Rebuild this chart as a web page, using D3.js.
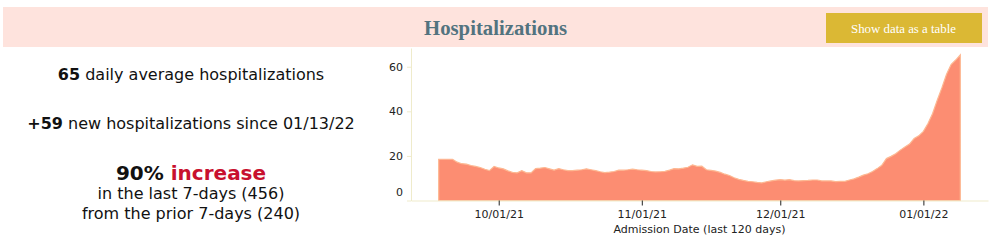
<!DOCTYPE html>
<html>
<head>
<meta charset="utf-8">
<script src="https://cdn.jsdelivr.net/npm/d3@7"></script>
<style>
  html, body { margin: 0; padding: 0; background: #fff; }
  svg text { font-family: "DejaVu Sans", Verdana, sans-serif; }
</style>
</head>
<body>
<div id="chart"></div>
<script>
// 7-day average hospitalizations, one value per day starting 09/18/21
const firstDay = new Date(2021, 8, 18);
const hospitalizations = [
  18.5, 18.5, 18.5, 18.5,
  17.2, 16.5, 16.3, 15.7, 15.3, 14.8, 14.0, 13.4, 15.3, 14.6,
  14.2, 13.3, 12.6, 12.4, 13.4, 12.4, 12.4, 14.3, 14.5, 14.8, 14.2, 13.6, 14.3, 13.8,
  13.4, 13.4, 13.6, 13.8, 14.2, 13.8, 13.4, 12.9, 12.5, 12.7, 13.0, 13.6, 13.6, 13.8,
  14.1, 13.8, 13.6, 13.4, 13.0, 12.8, 12.9, 13.1, 13.6, 14.3, 14.2, 14.5, 14.9, 16.0, 15.3, 15.4,
  13.8, 13.5, 13.2, 12.6, 11.8, 11.2, 10.2, 9.5, 9.0, 8.6, 8.4, 8.1, 7.9, 8.4,
  8.8, 9.1, 9.4, 9.1, 9.4, 8.9, 8.8, 8.9, 9.0, 9.2, 9.2, 8.8, 8.8, 8.8,
  8.5, 8.6, 8.6, 9.2, 9.7, 10.5, 11.4, 12.0, 13.0, 14.3, 15.8, 18.8, 19.8, 21.0,
  22.6, 24.0, 25.3, 27.8, 29.0, 31.0, 34.5, 39.0, 45.0, 50.5, 56.5, 61.0, 63.0, 65.3
];
const xDomain = [new Date(2021, 8, 12), new Date(2022, 0, 15)];
const xTicks = [new Date(2021, 9, 1), new Date(2021, 10, 1), new Date(2021, 11, 1), new Date(2022, 0, 1)];
const yTicks = [0, 20, 40, 60];

const title = 'Hospitalizations';
const buttonLabel = 'Show data as a table';
const xAxisTitle = 'Admission Date (last 120 days)';
const dailyAverage = 65;
const newSince = { count: 59, date: '01/13/22' };
const weekChange = { pct: 90, last: 456, prior: 240 };

const data = hospitalizations.map((v, i) => ({ date: d3.timeDay.offset(firstDay, i), value: v }));

const svg = d3.select('#chart').append('svg')
  .attr('width', 996)
  .attr('height', 242);

// header band
svg.append('rect')
  .attr('x', 3).attr('y', 7)
  .attr('width', 985).attr('height', 40)
  .attr('fill', '#fee3dd');

svg.append('text')
  .attr('x', 424).attr('y', 35)
  .attr('textLength', 143)
  .attr('lengthAdjust', 'spacingAndGlyphs')
  .style('font-family', '"Liberation Serif", serif')
  .style('font-weight', 'bold')
  .style('font-size', '21px')
  .attr('fill', '#52737f')
  .text(title);

svg.append('rect')
  .attr('x', 826).attr('y', 13)
  .attr('width', 156).attr('height', 30)
  .attr('fill', '#dbb834');

svg.append('text')
  .attr('x', 851).attr('y', 33)
  .attr('textLength', 105)
  .attr('lengthAdjust', 'spacingAndGlyphs')
  .style('font-family', '"Liberation Serif", serif')
  .style('font-size', '13px')
  .attr('fill', '#fff')
  .text(buttonLabel);

// summary text on the left
const summary = svg.append('g').attr('text-anchor', 'middle').attr('fill', '#111');

const l1 = summary.append('text').attr('x', 191).attr('y', 80).style('font-size', '16px');
l1.append('tspan').style('font-weight', 'bold').text(dailyAverage);
l1.append('tspan').text(' daily average hospitalizations');

const l2 = summary.append('text').attr('x', 191).attr('y', 129).style('font-size', '16px');
l2.append('tspan').style('font-weight', 'bold').text('+' + newSince.count);
l2.append('tspan').text(' new hospitalizations since ' + newSince.date);

const l3 = summary.append('text').attr('x', 191).attr('y', 179.5)
  .style('font-size', '20px').style('font-weight', 'bold');
l3.append('tspan').text(weekChange.pct + '% ');
l3.append('tspan').attr('fill', '#c8102e').text('increase');

summary.append('text').attr('x', 191).attr('y', 199).style('font-size', '16px')
  .text(`in the last 7-days (${weekChange.last})`);
summary.append('text').attr('x', 191).attr('y', 218.5).style('font-size', '16px')
  .text(`from the prior 7-days (${weekChange.prior})`);

// chart
const x = d3.scaleTime().domain(xDomain).range([411, 988]);
const y = d3.scaleLinear().domain([0, 68.4]).range([200.5, 48]);

const area = d3.area()
  .x(d => x(d.date))
  .y0(y(0))
  .y1(d => y(d.value));

svg.append('path')
  .datum(data)
  .attr('d', area)
  .attr('fill', '#fc8d72')
  .attr('stroke', '#fdb892')
  .attr('stroke-width', 1.2);

const yAxis = svg.append('g')
  .attr('transform', 'translate(411,0)')
  .call(d3.axisLeft(y).tickValues(yTicks).tickSize(4).tickSizeOuter(0).tickPadding(4));
yAxis.select('.domain').attr('stroke', '#efebcb');
yAxis.selectAll('.tick line').attr('stroke', '#efebcb');
yAxis.selectAll('.tick text')
  .style('font-size', '11px')
  .attr('fill', '#222')
  .attr('transform', d => d === 0 ? 'translate(0,-8.5)' : null);

const xAxis = svg.append('g')
  .attr('transform', 'translate(0,200.5)')
  .call(d3.axisBottom(x).tickValues(xTicks).tickFormat(d3.timeFormat('%m/%d/%y'))
    .tickSize(5).tickSizeOuter(0).tickPadding(5));
xAxis.select('.domain').attr('stroke', '#efebcb');
xAxis.selectAll('.tick line').attr('stroke', '#222');
xAxis.selectAll('.tick text').style('font-size', '11px').attr('fill', '#222');

svg.append('text')
  .attr('x', 699.5).attr('y', 233)
  .attr('text-anchor', 'middle')
  .style('font-size', '11px')
  .attr('fill', '#222')
  .text(xAxisTitle);
</script>
</body>
</html>
